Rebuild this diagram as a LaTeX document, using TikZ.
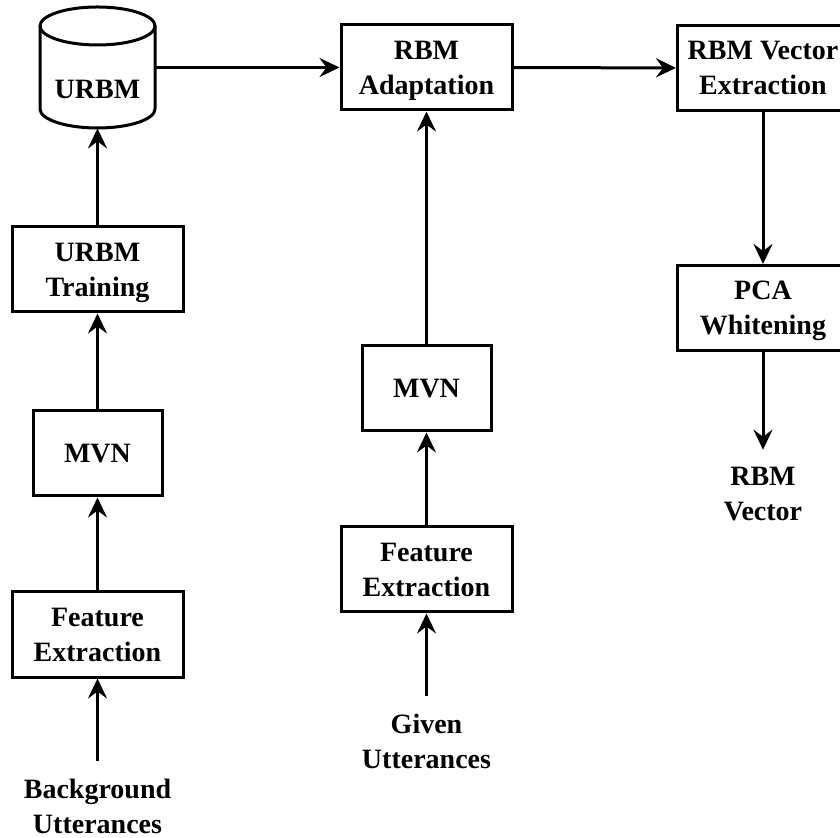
\documentclass[tikz,border=0pt]{standalone}
\usepackage{fontspec}
\setmainfont{Liberation Serif}
\usetikzlibrary{arrows.meta}

\tikzset{
  every node/.style={font=\bfseries\fontsize{14pt}{17.5pt}\selectfont, align=center},
  stepbox/.style={draw, line width=1.5pt, rectangle, inner sep=0pt, text depth=0pt,
                  minimum width=85.5pt, minimum height=42.5pt},
  smallbox/.style={stepbox, minimum width=64.5pt},
  lbl/.style={inner xsep=0pt, inner ysep=8.5pt},
  arr/.style={line width=1.5pt, -{Stealth[length=10pt, width=9.5pt, inset=3.5pt]}},
}

\begin{document}
\begin{tikzpicture}[x=0.5pt, y=-0.5pt]
  \useasboundingbox (0,0) rectangle (840,838);

  % database cylinder (URBM)
  \node[minimum width=57.5pt, minimum height=60.5pt, inner sep=0pt] (urbm) at (97.5,67.5) {};
  \draw[line width=1.5pt]
    (97.5,26) ellipse [x radius=28.75pt, y radius=9.5pt];
  \draw[line width=1.5pt]
    (40,26) -- (40,109) arc [start angle=180, end angle=360, x radius=28.75pt, y radius=9.5pt]
    -- (155,26);
  \node (urbmtext) at (97.5,89) {URBM};

  % left column
  \node[stepbox]  (utrain) at (97.5,269.5) {URBM\\Training};
  \node[smallbox] (lmvn)   at (97.5,453.5) {MVN};
  \node[stepbox]  (lfeat)  at (97.5,634.5) {Feature\\Extraction};
  \node[lbl]      (bg)     at (97.5,806)   {Background\\Utterances};

  % middle column
  \node[stepbox]  (adapt)  at (426.5,67.5)  {RBM\\Adaptation};
  \node[smallbox] (mmvn)   at (426.5,388.5) {MVN};
  \node[stepbox]  (mfeat)  at (426.5,569.5) {Feature\\Extraction};
  \node[lbl]      (given)  at (426.5,741)   {Given\\Utterances};

  % right column
  \node[stepbox]  (vecx)   at (763,68)  {RBM Vector\\Extraction};
  \node[stepbox]  (pca)    at (763,308) {PCA\\Whitening};
  \node[lbl]      (vec)    at (763,494) {RBM\\Vector};

  % connectors
  \draw[arr] (bg) -- (lfeat);
  \draw[arr] (lfeat) -- (lmvn);
  \draw[arr] (lmvn) -- (utrain);
  \draw[arr] (utrain) -- (urbm);
  \draw[arr] (urbm) -- (adapt);

  \draw[arr] (given) -- (mfeat);
  \draw[arr] (mfeat) -- (mmvn);
  \draw[arr] (mmvn) -- (adapt);

  \draw[arr] (adapt) -- (vecx);
  \draw[arr] (vecx) -- (pca);
  \draw[arr] (pca) -- (vec);
\end{tikzpicture}
\end{document}
